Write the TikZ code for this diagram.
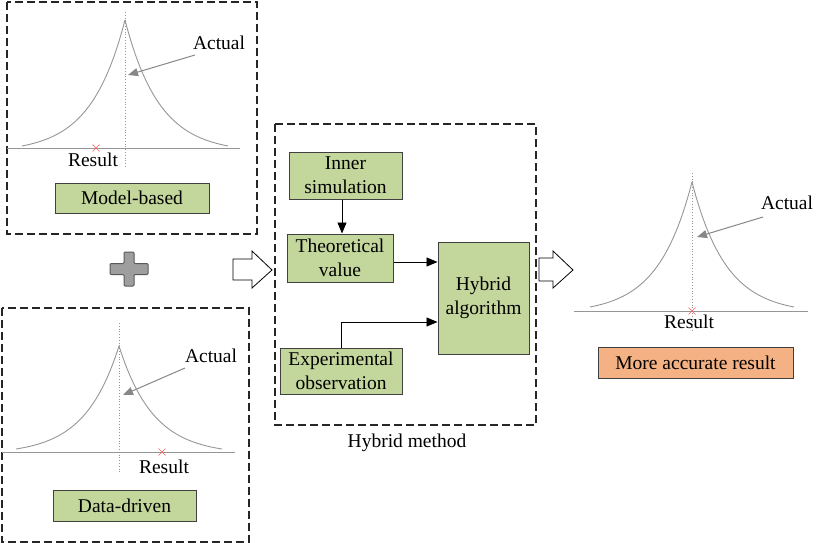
\documentclass[tikz,border=0pt]{standalone}
\usepackage{fontspec}
\setmainfont{Liberation Serif}
\usetikzlibrary{arrows.meta}
\definecolor{boxgreen}{RGB}{195,214,155}
\definecolor{boxorange}{RGB}{244,177,131}
\definecolor{curvegray}{RGB}{150,150,150}
\definecolor{xred}{RGB}{255,90,90}
\newcommand{\peakcurve}[4]{%
  \draw[curve] plot[domain=0:1, samples=50, variable=\t] ({#1-\t*#3},{#4-(#4-#2)*(exp(-3*\t)-exp(-3))/(1-exp(-3))});
  \draw[curve] plot[domain=0:1, samples=50, variable=\t] ({#1+\t*#3},{#4-(#4-#2)*(exp(-3*\t)-exp(-3))/(1-exp(-3))});
}
\newcommand{\xmark}[2]{%
  \draw[xred, line width=0.6pt] (#1-3.5,#2-3.5) -- (#1+3.5,#2+3.5) (#1-3.5,#2+3.5) -- (#1+3.5,#2-3.5);
}
\begin{document}
\begin{tikzpicture}[x=1pt, y=-1pt,
  every node/.style={font=\fontsize{19.5}{24}\selectfont},
  panel/.style={draw=black!85, line width=1.1pt, dash pattern=on 8pt off 4pt},
  curve/.style={draw=curvegray, line width=0.9pt},
  baseline/.style={draw=curvegray, line width=1pt},
  vline/.style={draw=curvegray, line width=0.8pt, dotted},
  garrow/.style={draw=curvegray!90!black, line width=1pt, -{Triangle[length=10pt,width=8pt]}},
  gbox/.style={draw=black!75, fill=boxgreen, line width=1pt, align=center, inner sep=0pt},
  obox/.style={draw=black!75, fill=boxorange, line width=1pt, align=center, inner sep=0pt},
  conn/.style={draw=black, line width=0.9pt, -{Triangle[length=11pt,width=9pt]}},
  hollow/.style={draw=black, line width=0.8pt, fill=white},
  lbl/.style={inner sep=0pt}
]
\useasboundingbox (0,0) rectangle (824,543);

% ---------- Panel 1: model-based ----------
\draw[panel] (7,2) rectangle (257,234);
\draw[vline] (125,12) -- (125,168);
\draw[baseline] (7,148) -- (240,148);
\peakcurve{125}{20}{103}{146}
\node[lbl] (act1) at (219,43) {Actual};
\coordinate (a1s) at (195,55);
\coordinate (a1e) at (128,75);
\draw[garrow] (a1s) -- (a1e);
\xmark{96}{148}
\node[lbl] (res1) at (93,160) {Result};
\node[gbox, minimum width=154pt, minimum height=30pt] (model) at (132,198) {Model-based};

% ---------- plus sign ----------
\draw[fill=black!38, draw=black!65, line width=1pt, rounded corners=1pt]
  (124,252) -- (134,252) -- (134,263.5) -- (148,263.5) -- (148,274.5) -- (134,274.5)
  -- (134,286) -- (124,286) -- (124,274.5) -- (110,274.5) -- (110,263.5) -- (124,263.5) -- cycle;

% ---------- Panel 2: data-driven ----------
\draw[panel] (2,308) rectangle (249,542);
\draw[vline] (119,323) -- (119,473);
\draw[baseline] (2,452) -- (235,452);
\peakcurve{119}{346}{103}{449}
\node[lbl] (act2) at (211,356) {Actual};
\coordinate (a2s) at (185,368);
\coordinate (a2e) at (123,395);
\draw[garrow] (a2s) -- (a2e);
\xmark{162}{452}
\node[lbl] (res2) at (164,467) {Result};
\node[gbox, minimum width=143pt, minimum height=31pt] (data) at (124.5,505.5) {Data-driven};

% ---------- hollow arrow 1 ----------
\draw[hollow] (233,259) -- (252,259) -- (252,251) -- (272,270) -- (252,288) -- (252,280) -- (233,280) -- cycle;

% ---------- Hybrid method ----------
\draw[panel] (275,124) rectangle (536,425);
\node[lbl] (hm) at (407,443) {Hybrid method};
\node[gbox, minimum width=113pt, minimum height=47pt] (inner) at (345.5,175.5) {Inner\\simulation};
\node[gbox, minimum width=106pt, minimum height=48pt] (theo) at (340,258) {Theoretical\\value};
\node[gbox, minimum width=91pt, minimum height=112pt] (hyb) at (483.5,298) {Hybrid\\algorithm};
\node[gbox, minimum width=122pt, minimum height=46pt] (exp) at (341,371) {Experimental\\observation};
\draw[conn] ([xshift=-3.5pt]inner.south) -- ([xshift=-3.5pt]inner.south |- theo.north);
\draw[conn] ([yshift=-4pt]theo.east) -- ([yshift=-4pt]theo.east -| hyb.west);
\draw[conn] (exp.north) |- ([yshift=-24pt]hyb.west);

% ---------- hollow arrow 2 ----------
\draw[hollow] (539,258) -- (553,258) -- (553,251) -- (573,270) -- (553,288) -- (553,281) -- (539,281) -- cycle;

% ---------- Panel 3: result ----------
\draw[vline] (692,173) -- (692,330);
\draw[baseline] (574,311) -- (808,311);
\peakcurve{692}{182}{102}{307}
\node[lbl] (act3) at (787,203) {Actual};
\coordinate (a3s) at (763,217);
\coordinate (a3e) at (697,237);
\draw[garrow] (a3s) -- (a3e);
\xmark{692}{311}
\node[lbl] (res3) at (689,322) {Result};
\node[obox, minimum width=195pt, minimum height=31pt] (more) at (695.5,362.5) {More accurate result};
\end{tikzpicture}
\end{document}
